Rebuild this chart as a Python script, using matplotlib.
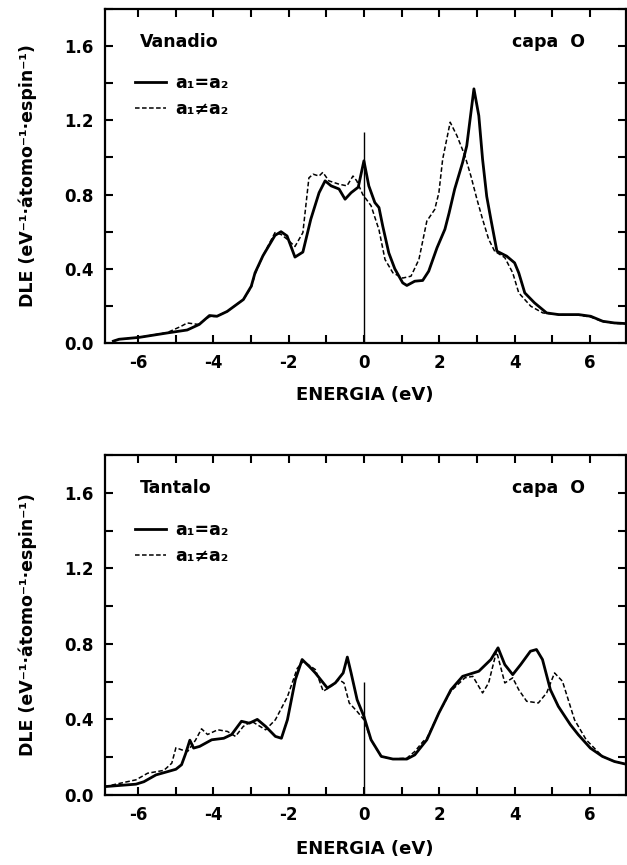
import matplotlib
matplotlib.use("Agg")
import matplotlib.pyplot as plt
from matplotlib.ticker import MultipleLocator

plt.rcParams['font.family'] = ['DejaVu Sans']
plt.rcParams['font.weight'] = 'bold'
plt.rcParams['axes.unicode_minus'] = False

# Vanadio, a1 = a2 (linea continua)
v_e_igual = [-6.65, -6.5, -5.97, -5.22, -4.69, -4.37, -4.1, -3.9, -3.63, -3.2, -2.99, -2.89,
             -2.68, -2.36, -2.2, -2.04, -1.83, -1.62, -1.41, -1.19, -1.03, -0.87, -0.66, -0.5,
             -0.34, -0.15, 0.0, 0.13, 0.29, 0.4, 0.5, 0.66, 0.82, 1.03, 1.14, 1.35, 1.56, 1.72,
             1.94, 2.15, 2.26, 2.41, 2.62, 2.73, 2.92, 3.05, 3.15, 3.26, 3.37, 3.53, 3.79, 4.0,
             4.11, 4.27, 4.53, 4.85, 5.17, 5.7, 6.02, 6.34, 6.65, 6.92]
v_dle_igual = [0.01, 0.02, 0.03, 0.054, 0.07, 0.10, 0.148, 0.144, 0.17, 0.234, 0.306, 0.378,
               0.47, 0.58, 0.60, 0.577, 0.463, 0.49, 0.667, 0.81, 0.874, 0.847, 0.83, 0.775,
               0.81, 0.84, 0.982, 0.847, 0.757, 0.73, 0.63, 0.486, 0.40, 0.324, 0.31, 0.333, 0.337, 0.387,
               0.513, 0.613, 0.70, 0.83, 0.973, 1.063, 1.37, 1.225, 0.99, 0.79, 0.667, 0.495, 0.468, 0.432,
               0.378, 0.27, 0.216, 0.162, 0.153, 0.153, 0.144, 0.117, 0.108, 0.105]

# Vanadio, a1 != a2 (linea de trazos)
v_e_dist = [-6.65, -6.5, -5.97, -5.22, -4.85, -4.69, -4.4, -4.1, -3.9, -3.63, -3.2, -2.99, -2.89,
            -2.68, -2.36, -2.2, -2.04, -1.83, -1.62, -1.46, -1.35, -1.19, -1.09, -0.93, -0.66,
            -0.45, -0.29, -0.19, -0.03, 0.19, 0.4, 0.56, 0.77, 1.03, 1.25, 1.46, 1.67, 1.88,
            1.99, 2.09, 2.29, 2.47, 2.68, 2.84, 3.0, 3.15, 3.31, 3.47, 3.74, 3.95, 4.11, 4.43,
            4.75, 5.17, 5.7, 6.02, 6.34, 6.65, 6.92]
v_dle_dist = [0.01, 0.02, 0.03, 0.056, 0.09, 0.108, 0.10, 0.142, 0.144, 0.17, 0.234, 0.30, 0.37,
              0.47, 0.595, 0.585, 0.56, 0.52, 0.595, 0.89, 0.91, 0.90, 0.92, 0.874, 0.856,
              0.847, 0.90, 0.874, 0.80, 0.74, 0.61, 0.45, 0.378, 0.35, 0.36, 0.45, 0.657, 0.72,
              0.81, 0.99, 1.19, 1.117, 1.01, 0.90, 0.775, 0.667, 0.56, 0.495, 0.46, 0.378, 0.27, 0.198,
              0.162, 0.153, 0.15, 0.14, 0.115, 0.106, 0.103]

# Tantalo, a1 = a2
t_e_igual = [-6.88, -6.05, -5.84, -5.52, -5.2, -4.99, -4.84, -4.73, -4.62, -4.52, -4.36, -4.04,
             -3.72, -3.51, -3.25, -3.04, -2.83, -2.61, -2.35, -2.19, -2.03, -1.82, -1.64, -1.45,
             -1.29, -0.97, -0.76, -0.55, -0.44, -0.34, -0.18, 0.0, 0.19, 0.46, 0.77, 1.14, 1.35,
             1.67, 1.99, 2.31, 2.62, 3.05, 3.37, 3.56, 3.74, 3.95, 4.16, 4.42, 4.58, 4.74, 4.95,
             5.16, 5.48, 5.69, 6.01, 6.33, 6.65, 6.91]
t_dle_igual = [0.044, 0.057, 0.07, 0.106, 0.124, 0.136, 0.16, 0.22, 0.29, 0.248, 0.257, 0.292,
               0.30, 0.32, 0.39, 0.38, 0.40, 0.363, 0.31, 0.30, 0.398, 0.61, 0.717, 0.68,
               0.646, 0.566, 0.593, 0.646, 0.73, 0.646, 0.504, 0.416, 0.292, 0.204, 0.19, 0.19, 0.212,
               0.292, 0.434, 0.557, 0.628, 0.655, 0.717, 0.779, 0.69, 0.637, 0.69, 0.761, 0.77, 0.717, 0.557,
               0.469, 0.372, 0.319, 0.248, 0.204, 0.177, 0.165]

# Tantalo, a1 != a2
t_e_dist = [-6.88, -6.05, -5.74, -5.31, -5.1, -4.99, -4.84, -4.68, -4.47, -4.31, -4.15, -3.88,
            -3.62, -3.41, -3.2, -2.98, -2.61, -2.35, -2.03, -1.77, -1.61, -1.29, -1.08, -0.87,
            -0.66, -0.53, -0.39, -0.18, 0.0, 0.19, 0.46, 0.77, 1.14, 1.35, 1.57, 1.67, 1.99,
            2.31, 2.68, 2.89, 3.15, 3.31, 3.52, 3.74, 3.95, 4.11, 4.32, 4.63, 4.85, 5.06, 5.27,
            5.59, 5.9, 6.33, 6.65, 6.91]
t_dle_dist = [0.044, 0.08, 0.115, 0.13, 0.168, 0.25, 0.239, 0.23, 0.29, 0.35, 0.32, 0.345,
              0.336, 0.31, 0.363, 0.39, 0.345, 0.398, 0.52, 0.67, 0.708, 0.664, 0.549, 0.575,
              0.61, 0.593, 0.487, 0.442, 0.398, 0.29, 0.204, 0.19, 0.195, 0.23, 0.283, 0.30, 0.434,
              0.55, 0.62, 0.628, 0.54, 0.593, 0.761, 0.593, 0.62, 0.557, 0.496, 0.487, 0.54, 0.646, 0.602,
              0.398, 0.292, 0.204, 0.177, 0.165]

paneles = [
    ("Vanadio", v_e_igual, v_dle_igual, v_e_dist, v_dle_dist, 1.14),
    ("Tantalo", t_e_igual, t_dle_igual, t_e_dist, t_dle_dist, 0.60),
]
posiciones = [[0.167, 0.6035, 0.831, 0.386], [0.167, 0.081, 0.831, 0.393]]
xlabel_y = [-0.13, -0.133]

fig = plt.figure(figsize=(6.27, 8.65), dpi=100)

for (nombre, e1, d1, e2, d2, fermi), pos, xly in zip(paneles, posiciones, xlabel_y):
    ax = fig.add_axes(pos)
    ax.plot(e1, d1, color='black', lw=2.0, label='a₁=a₂')
    ax.plot(e2, d2, color='black', lw=1.1, ls=(0, (3, 1.6)), label='a₁≠a₂')
    ax.vlines(0, 0, fermi, color='black', lw=1.0)

    ax.set_xlim(-6.88, 6.95)
    ax.set_ylim(0, 1.8)
    ax.xaxis.set_major_locator(MultipleLocator(2))
    ax.xaxis.set_minor_locator(MultipleLocator(1))
    ax.yaxis.set_major_locator(MultipleLocator(0.4))
    ax.yaxis.set_minor_locator(MultipleLocator(0.2))
    ax.tick_params(which='both', direction='in', top=True, right=True,
                   width=1.5, length=6, labelsize=12, pad=8)
    ax.set_yticks([0, 0.4, 0.8, 1.2, 1.6])
    ax.set_yticklabels(['0.0', '0.4', '0.8', '1.2', '1.6'])
    for s in ax.spines.values():
        s.set_linewidth(1.6)

    ax.set_xlabel('ENERGIA (eV)', fontsize=13, fontweight='bold')
    ax.xaxis.set_label_coords(0.5, xly)
    ax.set_ylabel('DLE (eV⁻¹·átomo⁻¹·espin⁻¹)', fontsize=12.5, fontweight='bold')
    ax.yaxis.set_label_coords(-0.13, 0.5)

    ax.text(0.067, 0.902, nombre, transform=ax.transAxes, fontsize=12.5, va='center')
    ax.text(0.922, 0.902, 'capa  O', transform=ax.transAxes, fontsize=12.5,
            va='center', ha='right')
    ax.legend(loc='upper left', bbox_to_anchor=(0.045, 0.825), frameon=False,
              fontsize=12.5, handlelength=1.8, handletextpad=0.5, labelspacing=0.45,
              borderaxespad=0)

fig.savefig('out.png', dpi=100)
